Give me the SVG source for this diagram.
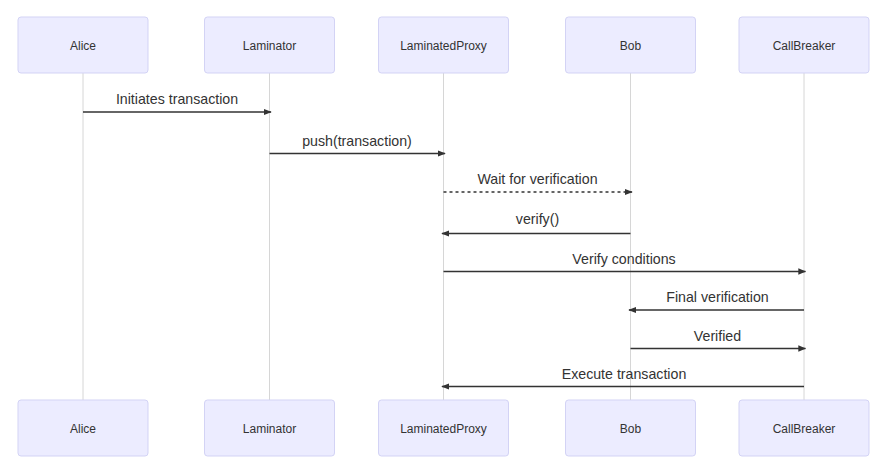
<svg xmlns="http://www.w3.org/2000/svg" width="894" height="473" viewBox="0 0 894 473">
<style>
.box{fill:#ECECFF;stroke:#D3D3F5;stroke-width:1;}
.atext{font-family:"Liberation Sans",Arial,sans-serif;font-size:12px;fill:#333;text-anchor:middle;}
.life{stroke:#D6D6D6;stroke-width:1;}
.msg{stroke:#333;stroke-width:1.5;fill:none;}
.dash{stroke-dasharray:3,3;}
.mtext{font-family:"Liberation Sans",Arial,sans-serif;font-size:14.2px;fill:#333;text-anchor:middle;}
</style>
<defs>
<marker id="ah" viewBox="0 0 10 10" refX="9" refY="5" markerWidth="8" markerHeight="8" markerUnits="userSpaceOnUse" orient="auto">
<path d="M0,1 L10,5 L0,9 z" fill="#333"/>
</marker>
</defs>
<rect width="894" height="473" fill="#fff"/>
<g id="lifelines">
<line class="life" x1="83" y1="73" x2="83" y2="400"/>
<line class="life" x1="269.5" y1="73" x2="269.5" y2="400"/>
<line class="life" x1="443.5" y1="73" x2="443.5" y2="400"/>
<line class="life" x1="630.5" y1="73" x2="630.5" y2="400"/>
<line class="life" x1="804" y1="73" x2="804" y2="400"/>
</g>
<g id="alice">
<rect class="box" x="18" y="17" width="130" height="56" rx="3"/>
<text class="atext" x="83" y="49.5">Alice</text>
<rect class="box" x="18" y="400" width="130" height="56" rx="3"/>
<text class="atext" x="83" y="432.5">Alice</text>
</g>
<g id="laminator">
<rect class="box" x="204.5" y="17" width="130" height="56" rx="3"/>
<text class="atext" x="269.5" y="49.5">Laminator</text>
<rect class="box" x="204.5" y="400" width="130" height="56" rx="3"/>
<text class="atext" x="269.5" y="432.5">Laminator</text>
</g>
<g id="laminatedproxy">
<rect class="box" x="378.5" y="17" width="130" height="56" rx="3"/>
<text class="atext" x="443.5" y="49.5">LaminatedProxy</text>
<rect class="box" x="378.5" y="400" width="130" height="56" rx="3"/>
<text class="atext" x="443.5" y="432.5">LaminatedProxy</text>
</g>
<g id="bob">
<rect class="box" x="565.5" y="17" width="130" height="56" rx="3"/>
<text class="atext" x="630.5" y="49.5">Bob</text>
<rect class="box" x="565.5" y="400" width="130" height="56" rx="3"/>
<text class="atext" x="630.5" y="432.5">Bob</text>
</g>
<g id="callbreaker">
<rect class="box" x="739" y="17" width="130" height="56" rx="3"/>
<text class="atext" x="804" y="49.5">CallBreaker</text>
<rect class="box" x="739" y="400" width="130" height="56" rx="3"/>
<text class="atext" x="804" y="432.5">CallBreaker</text>
</g>
<g id="connectors">
<line class="msg" x1="83" y1="112" x2="271" y2="112" marker-end="url(#ah)"/>
<text class="mtext" x="177" y="104.3">Initiates transaction</text>
<line class="msg" x1="269.5" y1="153.5" x2="445" y2="153.5" marker-end="url(#ah)"/>
<text class="mtext" x="357" y="145.5">push(transaction)</text>
<line class="msg dash" x1="443.5" y1="192" x2="632" y2="192" marker-end="url(#ah)"/>
<text class="mtext" x="537.5" y="184">Wait for verification</text>
<line class="msg" x1="630.5" y1="233.5" x2="442" y2="233.5" marker-end="url(#ah)"/>
<text class="mtext" x="537.5" y="224">verify()</text>
<line class="msg" x1="443.5" y1="271.5" x2="805.5" y2="271.5" marker-end="url(#ah)"/>
<text class="mtext" x="624" y="263.5">Verify conditions</text>
<line class="msg" x1="804" y1="310" x2="629" y2="310" marker-end="url(#ah)"/>
<text class="mtext" x="717.5" y="302">Final verification</text>
<line class="msg" x1="630.5" y1="348.5" x2="805.5" y2="348.5" marker-end="url(#ah)"/>
<text class="mtext" x="717.5" y="340.5">Verified</text>
<line class="msg" x1="804" y1="386.5" x2="442" y2="386.5" marker-end="url(#ah)"/>
<text class="mtext" x="624" y="378.5">Execute transaction</text>
</g>
</svg>
